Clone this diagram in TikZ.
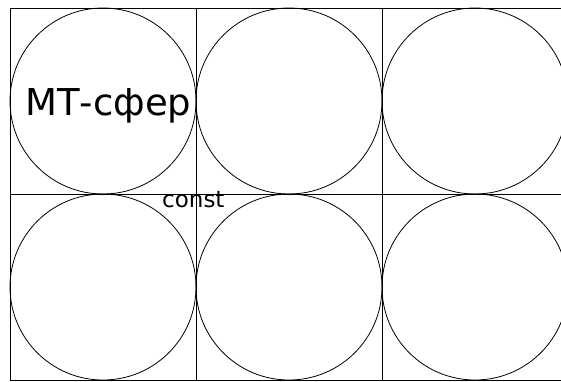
\documentclass[tikz,border=0pt]{standalone}
\usepackage{fontspec}
\newfontfamily\sphfont{DejaVu Sans}
\begin{document}
\begin{tikzpicture}[x=1pt, y=-1pt,
    cell/.style={draw=black, line width=0.8pt, minimum size=186pt, inner sep=0pt, outer sep=0pt},
    ball/.style={draw=black, circle, line width=0.8pt, minimum size=186pt, inner sep=0pt, outer sep=0pt},
    lbl/.style={anchor=base west, inner sep=0pt, text=black}
]
\useasboundingbox (0,0) rectangle (561,381);
% 3 x 2 cells, each with its inscribed sphere
\foreach \col in {0,1,2}{
  \foreach \row in {0,1}{
    \node[cell] (cell-\col-\row) at ({103+186*\col},{101+186*\row}) {};
    \node[ball] (ball-\col-\row) at (cell-\col-\row) {};
  }
}
\node[lbl, font=\sphfont\fontsize{37}{44}\selectfont] (mtsph) at (25,115) {МТ-сфер};
\node[lbl, font=\sphfont\fontsize{23}{28}\selectfont] (const) at (162,207) {const};
\end{tikzpicture}
\end{document}
